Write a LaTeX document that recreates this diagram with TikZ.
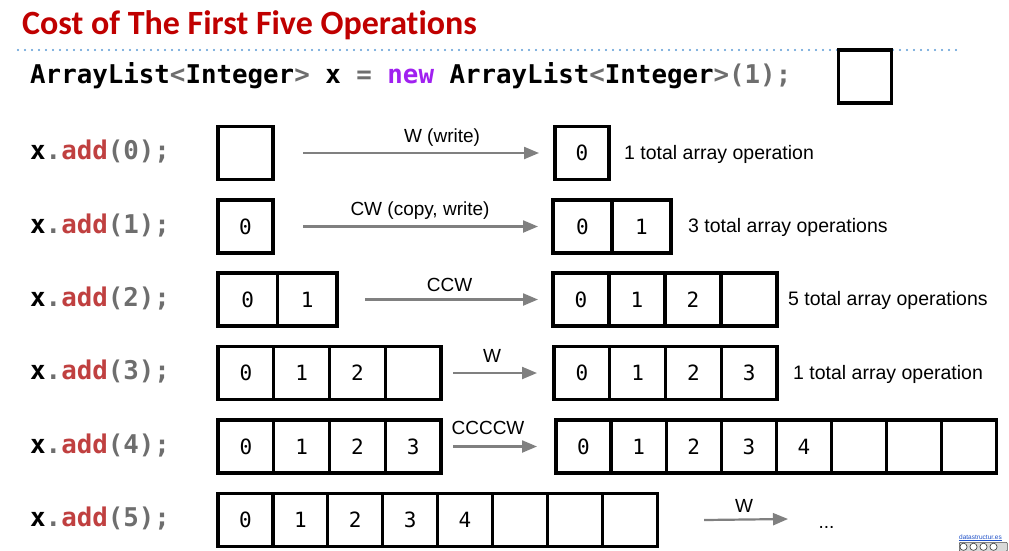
\documentclass[tikz,border=0pt]{standalone}
\usepackage{fontspec}
\setmainfont{Liberation Sans}
\newfontfamily\titlefont[Ligatures=NoCommon]{Carlito}
\newfontfamily\codefont{DejaVu Sans Mono}
\usetikzlibrary{arrows.meta}
\definecolor{titlered}{RGB}{192,0,0}
\definecolor{methred}{RGB}{192,64,64}
\definecolor{symgray}{RGB}{110,110,110}
\definecolor{kwpurple}{RGB}{160,32,240}
\definecolor{dotblue}{RGB}{91,155,213}
\definecolor{arrowgray}{RGB}{128,128,128}
\definecolor{linkblue}{RGB}{30,80,200}

% one row of array cells: name, left x, centre y, cell width, entries
\newcommand\arrayrow[5]{%
  \foreach \v [count=\i] in {#5} {
    \node[cell=#4pt] (#1-\i) at ({#2+(\i-0.5)*#4}, #3) {\v};
  }}
% a call such as x.add(n);
\newcommand\addcall[1]{\textcolor{black}{x}\textcolor{symgray}{.}\textcolor{methred}{add}\textcolor{symgray}{(#1);}}

\begin{document}
\begin{tikzpicture}[x=1pt,y=-1pt,
  cell/.style={draw=black, line width=3.3pt, minimum width=#1, minimum height=53pt,
    inner sep=0pt, outer sep=0pt, font=\codefont\fontsize{21}{21}\selectfont},
  code/.style={anchor=base west, inner sep=0pt, font=\codefont\bfseries\fontsize{25.8}{25.8}\selectfont},
  note/.style={anchor=base west, inner sep=0pt, font=\fontsize{19.5}{19.5}\selectfont},
  oplabel/.style={anchor=base, inner sep=0pt, font=\fontsize{19}{19}\selectfont},
  flow/.style={draw=arrowgray, line width=2.2pt, -{Triangle[length=15pt,width=12pt]}}]

\useasboundingbox[fill=white] (0,0) rectangle (1009,550);

% heading and rule
\node[anchor=base west, inner sep=0pt, text=titlered,
  font=\titlefont\bfseries\fontsize{34}{34}\selectfont] (title) at (22,34)
  {Cost of The First Five Operations};
\draw[dotblue, line width=2.2pt, dash pattern=on 0pt off 7pt, line cap=round] (18,50) -- (958,50);

% constructor
\node[code] (ctor) at (30,83) {ArrayList\textcolor{symgray}{<}Integer\textcolor{symgray}{>} x \textcolor{symgray}{=} \textcolor{kwpurple}{new} ArrayList\textcolor{symgray}{<}Integer\textcolor{symgray}{>(1);}};
\node[cell=53pt] (init) at (865,76.5) {};

% calls
\node[code] (op0) at (30,159) {\addcall{0}};
\node[code] (op1) at (30,233) {\addcall{1}};
\node[code] (op2) at (30,306) {\addcall{2}};
\node[code] (op3) at (30,379) {\addcall{3}};
\node[code] (op4) at (30,453) {\addcall{4}};
\node[code] (op5) at (30,526) {\addcall{5}};

% add(0)
\arrayrow{L0}{218}{153}{55}{{}}
\arrayrow{R0}{555}{153}{54}{0}
\draw[flow] ([xshift=30pt]L0-1.east) -- ([xshift=-16pt]R0-1.west);
\node[oplabel] (w0) at (442,142) {W (write)};
\node[note] (c0) at (624,159) {1 total array operation};

% add(1)
\arrayrow{L1}{218}{226.5}{55}{0}
\arrayrow{R1}{553}{226.5}{59}{0,1}
\draw[flow] ([xshift=30pt]L1-1.east) -- ([xshift=-15pt]R1-1.west);
\node[oplabel] (w1) at (420,215.5) {CW (copy, write)};
\node[note] (c1) at (688,232) {3 total array operations};

% add(2)
\arrayrow{L2}{218}{299.5}{59.5}{0,1}
\arrayrow{R2}{553}{299.5}{56}{0,1,2,{}}
\draw[flow] ([xshift=28pt]L2-2.east) -- ([xshift=-15pt]R2-1.west);
\node[oplabel] (w2) at (449.5,291.5) {CCW};
\node[note] (c2) at (788,305) {5 total array operations};

% add(3)
\arrayrow{L3}{218}{373}{55.75}{0,1,2,{}}
\arrayrow{R3}{554}{373}{55.75}{0,1,2,3}
\draw[flow] ([xshift=12pt]L3-4.east) -- ([xshift=-17pt]R3-1.west);
\node[oplabel] (w3) at (492,362.5) {W};
\node[note] (c3) at (793,379) {1 total array operation};

% add(4)
\arrayrow{L4}{218}{446.5}{55.75}{0,1,2,3}
\arrayrow{R4}{556}{446.5}{55.1}{0,1,2,3,4,{},{},{}}
\draw[flow] ([xshift=12pt]L4-4.east) -- ([xshift=-19pt]R4-1.west);
\node[oplabel] (w4) at (488,434) {CCCCW};

% add(5)
\arrayrow{L5}{218}{520}{54.9}{0,1,2,3,4,{},{},{}}
\coordinate (next) at (788,519);
\draw[flow] ([xshift=47pt]L5-8.east) -- (next);
\node[oplabel] (w5) at (744,512) {W};
\node[oplabel] (dots) at (826.5,528) {...};

% credit link and licence badge
\node[anchor=base west, inner sep=0pt, text=linkblue,
  font=\fontsize{6.5}{6.5}\selectfont] (link) at (959,539) {\underline{datastructur.es}};
\node[anchor=north west, draw=black!70, fill=black!15, rounded corners=1pt, line width=0.6pt,
  minimum width=48pt, minimum height=9pt, inner sep=0pt] (badge) at (959,542) {};
\foreach \k in {0,1,2,3} \draw[black!80, line width=0.6pt, fill=white] ([xshift={4.5pt+\k*10pt}]badge.west) circle (3.6pt);
\end{tikzpicture}
\end{document}
